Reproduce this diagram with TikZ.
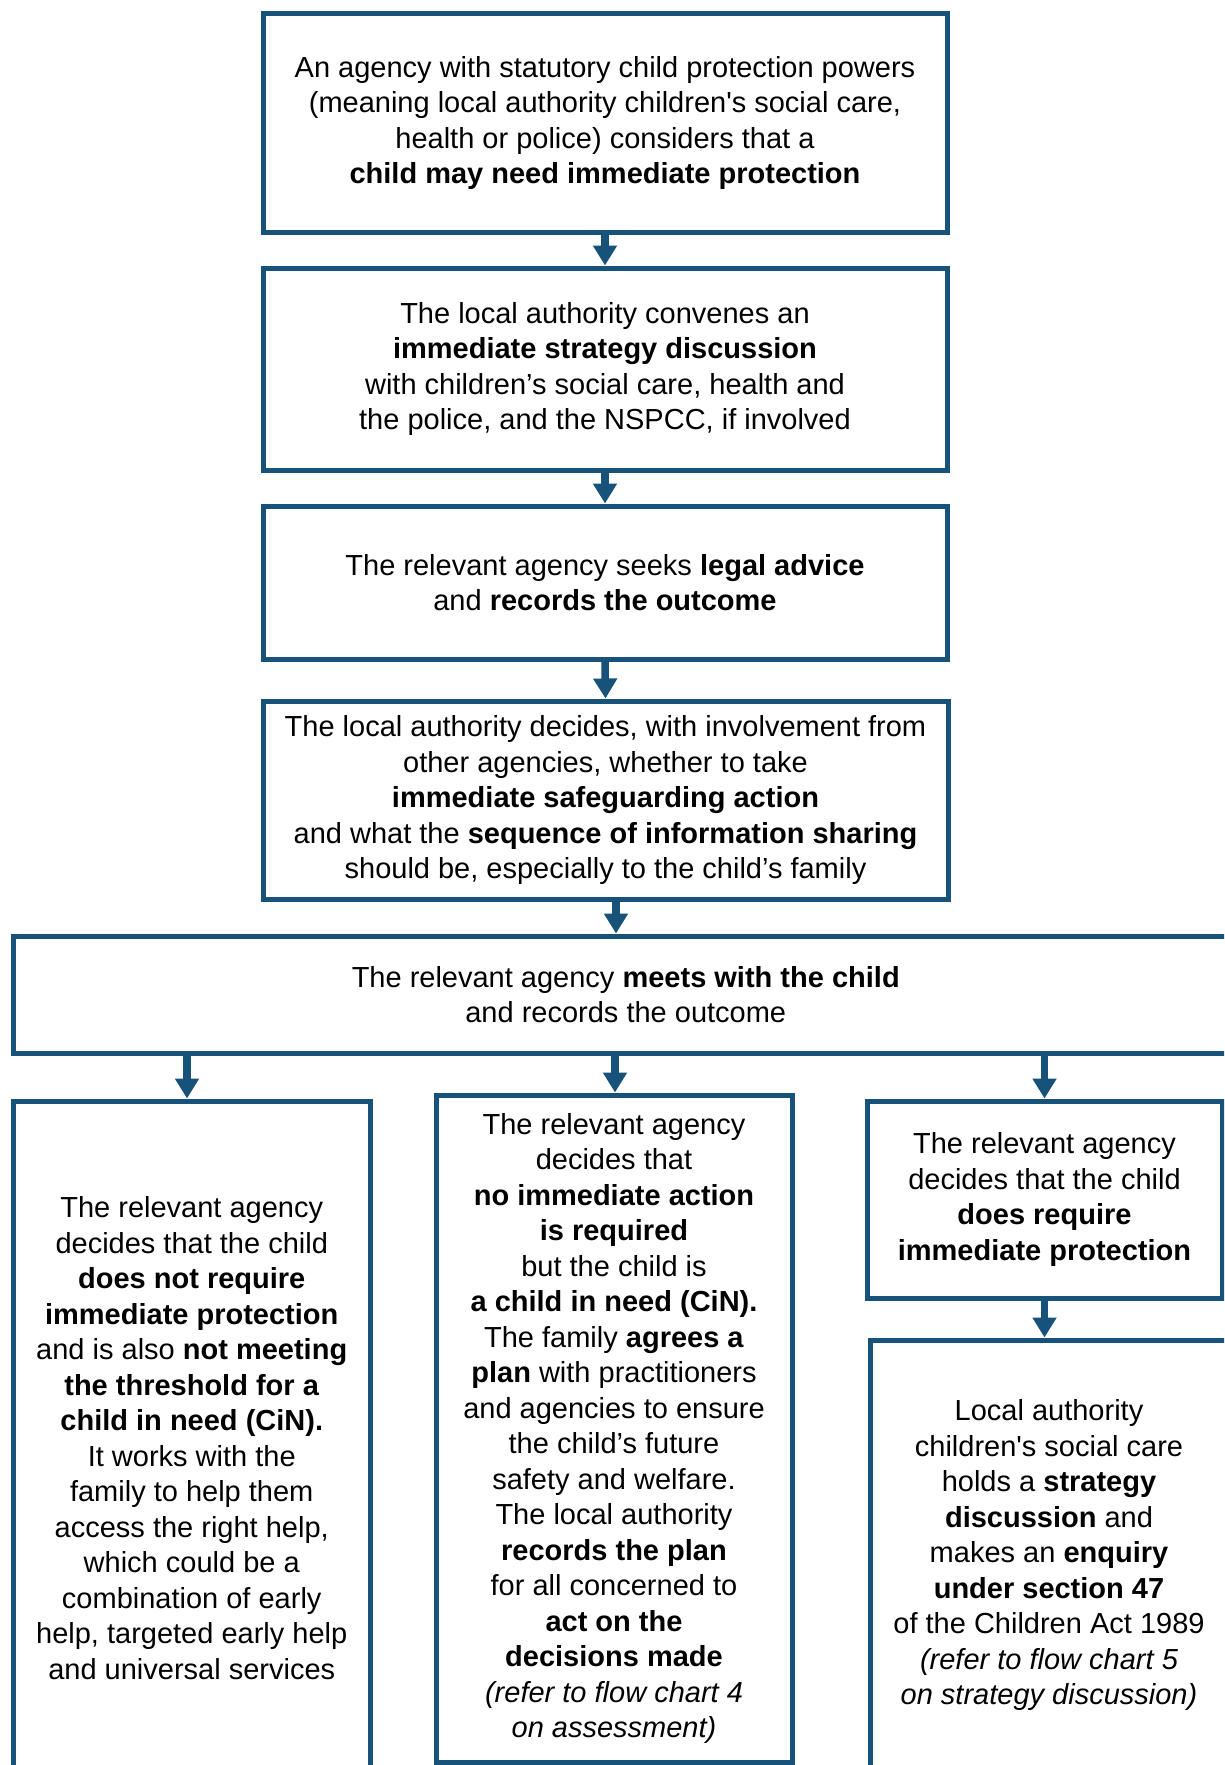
\documentclass[tikz,border=0pt]{standalone}
\usepackage{fontspec}
\setmainfont{Liberation Sans}[Ligatures=TeXOff]
\usetikzlibrary{arrows.meta}
\definecolor{boxblue}{RGB}{22,82,122}
\begin{document}
\begin{tikzpicture}[x=1pt,y=-1pt,
  flowbox/.style={draw=boxblue, line width=5pt, fill=white, align=center,
    inner sep=0pt, font={\fontsize{29}{35.5}\selectfont}},
  arr/.style={draw=boxblue, line width=7.5pt, -{Triangle[width=23pt,length=20pt]}}]
\useasboundingbox (0,0) rectangle (1224,1765);
\clip (0,0) rectangle (1224,1765);
\fill[white] (0,0) rectangle (1224,1765);

\node[flowbox, minimum width=684pt, minimum height=219pt] (b1) at (605,123)
 {An agency with statutory child protection powers\\
  (meaning local authority children's social care,\\
  health or police) considers that a\\
  \textbf{child may need immediate protection}};

\node[flowbox, minimum width=684pt, minimum height=202pt] (b2) at (605,369)
 {The local authority convenes an\\
  \textbf{immediate strategy discussion}\\
  with children’s social care, health and\\
  the police, and the NSPCC, if involved};

\node[flowbox, minimum width=684pt, minimum height=153pt] (b3) at (605,582.5)
 {The relevant agency seeks \textbf{legal advice}\\
  and \textbf{records the outcome}};

\node[flowbox, minimum width=685pt, minimum height=198pt] (b4) at (605.5,800)
 {The local authority decides, with involvement from\\
  other agencies, whether to take\\
  \textbf{immediate safeguarding action}\\
  and what the \textbf{sequence of information sharing}\\
  should be, especially to the child’s family};

\node[flowbox, minimum width=1224.5pt, minimum height=117pt] (b5) at (625.75,994.5)
 {The relevant agency \textbf{meets with the child}\\
  and records the outcome};

\node[flowbox, minimum width=356.5pt, minimum height=674pt] (b6) at (191.75,1438)
 {The relevant agency\\
  decides that the child\\
  \textbf{does not require}\\
  \textbf{immediate protection}\\
  and is also \textbf{not meeting}\\
  \textbf{the threshold for a}\\
  \textbf{child in need (CiN).}\\
  It works with the\\
  family to help them\\
  access the right help,\\
  which could be a\\
  combination of early\\
  help, targeted early help\\
  and universal services};

\node[flowbox, minimum width=356pt, minimum height=667pt] (b7) at (614,1428.5)
 {The relevant agency\\
  decides that\\
  \textbf{no immediate action}\\
  \textbf{is required}\\
  but the child is\\
  \textbf{a child in need (CiN).}\\
  The family \textbf{agrees a}\\
  \textbf{plan} with practitioners\\
  and agencies to ensure\\
  the child’s future\\
  safety and welfare.\\
  The local authority\\
  \textbf{records the plan}\\
  for all concerned to\\
  \textbf{act on the}\\
  \textbf{decisions made}\\
  \textit{(refer to flow chart 4}\\
  \textit{on assessment)}};

\node[flowbox, minimum width=355pt, minimum height=197pt] (b8) at (1044.5,1199.5)
 {The relevant agency\\
  decides that the child\\
  \textbf{does require}\\
  \textbf{immediate protection}};

\node[flowbox, minimum width=358pt, minimum height=430pt] (b9) at (1049,1555)
 {Local authority\\
  children's social care\\
  holds a \textbf{strategy}\\
  \textbf{discussion} and\\
  makes an \textbf{enquiry}\\
  \textbf{under section 47}\\
  of the Children Act 1989\\
  \textit{(refer to flow chart 5}\\
  \textit{on strategy discussion)}};

\draw[arr] (b1.south) -- (b2.north);
\draw[arr] (b2.south) -- (b3.north);
\draw[arr] (b3.south) -- (b4.north);
\draw[arr] ([xshift=10.5pt]b4.south) -- ([xshift=10.5pt]b4.south |- b5.north);
\draw[arr] ([xshift=-4.75pt]b6.north |- b5.south) -- ([xshift=-4.75pt]b6.north);
\draw[arr] ([xshift=1pt]b7.north |- b5.south) -- ([xshift=1pt]b7.north);
\draw[arr] (b8.north |- b5.south) -- (b8.north);
\draw[arr] (b8.south) -- (b8.south |- b9.north);
\end{tikzpicture}
\end{document}
